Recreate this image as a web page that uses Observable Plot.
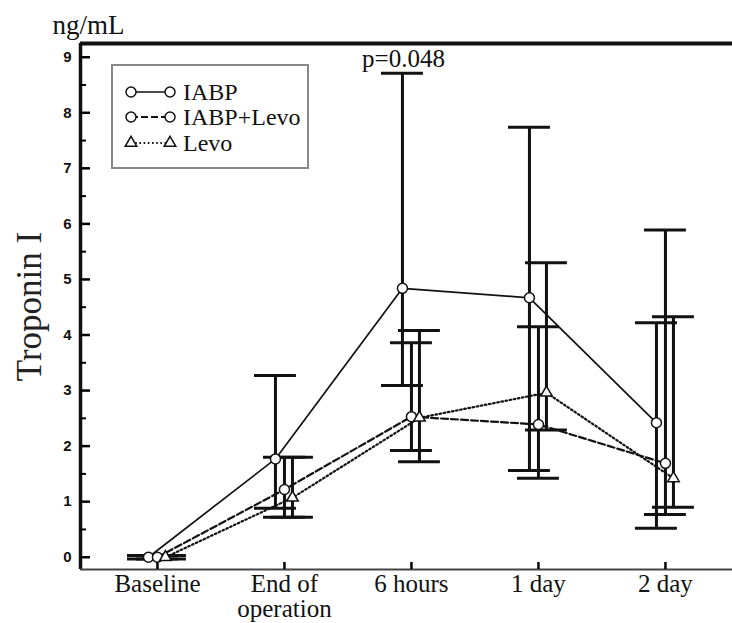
<!DOCTYPE html>
<html>
<head>
<meta charset="utf-8">
<script src="https://cdn.jsdelivr.net/npm/d3@7"></script>
<script src="https://cdn.jsdelivr.net/npm/@observablehq/plot@0.6"></script>
<style>
  html, body { margin: 0; padding: 0; background: #fff; }
  #wrap { position: relative; width: 732px; height: 623px; overflow: hidden; }
  #wrap svg { overflow: visible; }
  #legend { position: absolute; left: 0; top: 0; pointer-events: none; }
</style>
</head>
<body>
<div id="wrap"></div>
<script>
// ---- data ----
const categories = ["Baseline", "End of\noperation", "6 hours", "1 day", "2 day"];
const groups = ["IABP", "IABP+Levo", "Levo"];

const iabpMean  = [0.00, 1.77, 4.84, 4.67, 2.42];
const iabpLow   = [-0.03, 0.88, 3.09, 1.56, 0.52];
const iabpHigh  = [0.03, 3.27, 8.71, 7.74, 4.22];

const comboMean = [0.00, 1.22, 2.53, 2.39, 1.69];
const comboLow  = [-0.03, 0.72, 1.92, 1.42, 0.77];
const comboHigh = [0.03, 1.80, 3.86, 4.15, 5.89];

const levoMean  = [0.00, 1.07, 2.51, 2.96, 1.42];
const levoLow   = [-0.03, 0.72, 1.72, 2.29, 0.90];
const levoHigh  = [0.03, 1.80, 4.08, 5.30, 4.33];

const yTicks = [0, 1, 2, 3, 4, 5, 6, 7, 8, 9];
const yMinorTicks = [0.5, 1.5, 2.5, 3.5, 4.5, 5.5, 6.5, 7.5, 8.5];
const yUnit = "ng/mL";
const yTitle = "Troponin I";
const pValueText = "p=0.048";
const pValueAt = {group: "IABP", category: "6 hours"};

// ---- styles / layout ----
const W = 732, H = 623;
const xDomain = [-0.606, 4.528];
const yDomain = [-0.221, 9.247];
const capHalf = 0.165; // in category units
const serif = "'Liberation Serif', 'Times New Roman', serif";
const sans = "'Liberation Sans', Arial, sans-serif";
const style = {
  "IABP":      {dx: -9, dash: null,  width: 1.7, symbol: "circle",   r: 5},
  "IABP+Levo": {dx: 0,  dash: "7,3", width: 2.2, symbol: "circle",   r: 5},
  "Levo":      {dx: 8,  dash: "1.6,2.6", width: 2.2, symbol: "triangle", r: 4.3}
};
const seriesData = {
  "IABP":      [iabpMean, iabpLow, iabpHigh],
  "IABP+Levo": [comboMean, comboLow, comboHigh],
  "Levo":      [levoMean, levoLow, levoHigh]
};

const rowsOf = g => categories.map((c, i) => ({
  i, category: c, group: g,
  mean: seriesData[g][0][i], lo: seriesData[g][1][i], hi: seriesData[g][2][i]
}));

const barMarks = [], lineMarks = [], dotMarks = [];
for (const g of groups) {
  const rows = rowsOf(g), s = style[g];
  barMarks.push(
    Plot.ruleX(rows, {x: "i", y1: "lo", y2: "hi", dx: s.dx, stroke: "#111", strokeWidth: 3}),
    Plot.ruleY(rows, {y: "hi", x1: d => d.i - capHalf, x2: d => d.i + capHalf, dx: s.dx, stroke: "#111", strokeWidth: 3}),
    Plot.ruleY(rows, {y: "lo", x1: d => d.i - capHalf, x2: d => d.i + capHalf, dx: s.dx, stroke: "#111", strokeWidth: 3})
  );
  lineMarks.push(
    Plot.line(rows, {x: "i", y: "mean", dx: s.dx, stroke: "#111", strokeWidth: s.width, strokeDasharray: s.dash})
  );
  dotMarks.push(
    Plot.dot(rows, {x: "i", y: "mean", dx: s.dx, symbol: s.symbol, r: s.r, fill: "white", stroke: "#111", strokeWidth: 1.5})
  );
}

const pRow = rowsOf(pValueAt.group).filter(d => d.category === pValueAt.category);

const chart = Plot.plot({
  width: W,
  height: H,
  marginLeft: 80,
  marginRight: 0,
  marginTop: 43,
  marginBottom: 54,
  style: {background: "white", overflow: "visible"},
  x: {type: "linear", domain: xDomain, axis: null},
  y: {domain: yDomain, axis: null},
  marks: [
    // frame: left, top, bottom
    Plot.ruleX([xDomain[0]], {stroke: "#111", strokeWidth: 3.5}),
    Plot.ruleY([yDomain[1]], {stroke: "#111", strokeWidth: 4}),
    Plot.ruleY([yDomain[0]], {stroke: "#444", strokeWidth: 2.2}),
    // y axis ticks (inward)
    Plot.axisY({ticks: yTicks, tickSize: -10, strokeWidth: 2.5, fill: "none", label: null, anchor: "left"}),
    Plot.axisY({ticks: yMinorTicks, tickSize: -6, strokeWidth: 2, fill: "none", label: null, anchor: "left"}),
    Plot.axisY({ticks: yTicks, tickSize: 0, tickPadding: 9, label: null, anchor: "left",
      fontFamily: sans, fontWeight: "bold", fontSize: 15, fill: "#111"}),
    // x axis ticks (inward) and labels
    Plot.axisX({ticks: d3.range(categories.length), tickSize: -7, strokeWidth: 2.5, fill: "none", label: null, anchor: "bottom"}),
    Plot.axisX({ticks: d3.range(categories.length), tickFormat: i => categories[i], tickSize: 0, tickPadding: 5,
      label: null, anchor: "bottom", fontFamily: serif, fontSize: 25, lineHeight: 1.0, fill: "#111"}),
    ...barMarks,
    ...lineMarks,
    ...dotMarks,
    // p value annotation
    Plot.text(pRow, {x: "i", y: "hi", dx: style[pValueAt.group].dx + 1, dy: -6, text: () => pValueText,
      lineAnchor: "bottom", textAnchor: "middle", fontFamily: serif, fontSize: 25, fill: "#111"}),
    // titles
    Plot.text([yUnit], {frameAnchor: "top-left", text: d => d, dx: -28, dy: -10, lineAnchor: "bottom",
      textAnchor: "start", fontFamily: serif, fontSize: 27, fill: "#111"}),
    Plot.text([yTitle], {frameAnchor: "left", text: d => d, dx: -40, rotate: -90, lineAnchor: "bottom",
      textAnchor: "middle", fontFamily: serif, fontSize: 35, fill: "#222"})
  ]
});

const wrap = document.getElementById("wrap");
wrap.appendChild(chart);

// ---- legend (overlay) ----
const leg = d3.select(wrap).append("svg").attr("id", "legend").attr("width", W).attr("height", H);
leg.append("rect").attr("x", 112).attr("y", 65).attr("width", 196).attr("height", 103)
  .attr("fill", "white").attr("stroke", "#888").attr("stroke-width", 2);
const rowY = [92, 117, 143];
groups.forEach((g, k) => {
  const s = style[g], y = rowY[k];
  leg.append("line").attr("x1", 131).attr("x2", 170).attr("y1", y).attr("y2", y)
    .attr("stroke", "#111").attr("stroke-width", s.width).attr("stroke-dasharray", s.dash);
  [131, 170].forEach(x => {
    leg.append("path")
      .attr("transform", `translate(${x},${y})`)
      .attr("d", d3.symbol(s.symbol === "triangle" ? d3.symbolTriangle : d3.symbolCircle, Math.PI * s.r * s.r)())
      .attr("fill", "white").attr("stroke", "#111").attr("stroke-width", 1.5);
  });
  leg.append("text").attr("x", 183).attr("y", y).attr("dy", "0.35em")
    .attr("font-family", serif).attr("font-size", 24).attr("fill", "#111").text(g);
});
</script>
</body>
</html>
